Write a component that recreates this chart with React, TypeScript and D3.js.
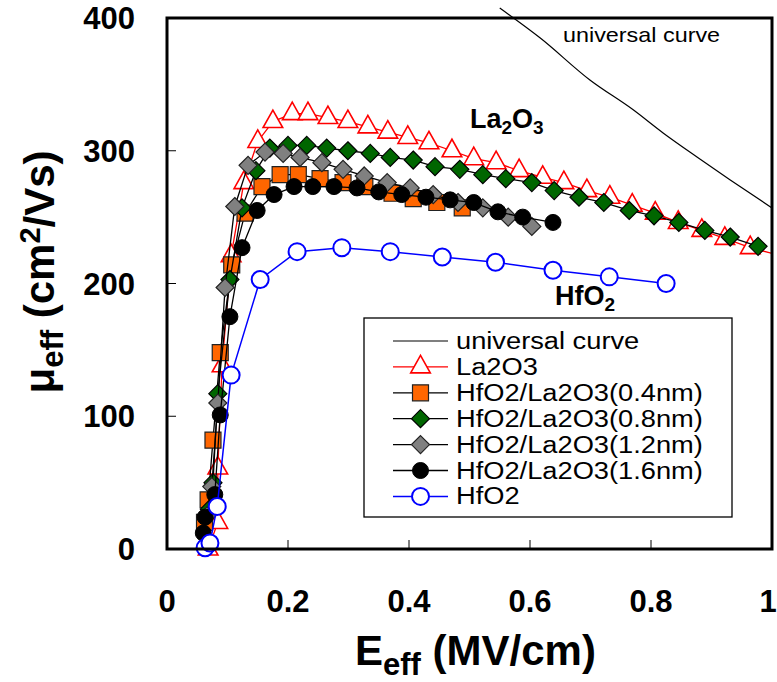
import React from 'react';
import * as d3 from 'd3';

const W = 777;
const H = 682;
const FONT = "'Liberation Sans', Arial, Helvetica, sans-serif";

// ---------- data ----------
const xTicks = [0, 0.2, 0.4, 0.6, 0.8, 1];
const xTickLabels = ['0', '0.2', '0.4', '0.6', '0.8', '1'];
const yTicks = [0, 100, 200, 300, 400];
const yTickLabels = ['0', '100', '200', '300', '400'];

const universalE = [0.55, 0.617, 0.699, 0.77, 0.82, 0.876, 0.931, 1.0];
const universalMu = [407.5, 384.9, 353.3, 331.0, 313.4, 295.3, 278.0, 256.9];

const la2o3E = [0.068, 0.084, 0.084, 0.091, 0.106, 0.127, 0.15, 0.175, 0.207, 0.233, 0.266, 0.299, 0.332, 0.365, 0.398, 0.433, 0.471, 0.507, 0.544, 0.582, 0.621, 0.656, 0.694, 0.732, 0.769, 0.807, 0.845, 0.884, 0.922, 0.964, 1.04];
const la2o3Mu = [0, 20, 61, 138, 221, 276, 307, 322, 328, 328, 325, 322, 318, 314, 310, 306, 300, 294, 291, 285, 280, 276, 270, 265, 259, 253, 246, 240, 234, 227, 218];

const hf04E = [0.062, 0.068, 0.076, 0.088, 0.107, 0.129, 0.157, 0.187, 0.217, 0.253, 0.291, 0.327, 0.372, 0.407, 0.446, 0.488];
const hf04Mu = [20, 37, 82, 148, 214, 253, 273, 282, 282, 279, 276, 273, 268, 264, 261, 257];

const hf08E = [0.07, 0.076, 0.084, 0.104, 0.124, 0.147, 0.17, 0.2, 0.231, 0.264, 0.299, 0.336, 0.369, 0.407, 0.443, 0.484, 0.522, 0.56, 0.603, 0.64, 0.681, 0.722, 0.764, 0.805, 0.846, 0.889, 0.931, 0.977];
const hf08Mu = [30, 50, 117, 203, 257, 285, 302, 304, 304, 302, 300, 298, 295, 293, 288, 286, 282, 279, 276, 270, 265, 261, 255, 251, 246, 240, 235, 228];

const hf12E = [0.066, 0.074, 0.084, 0.096, 0.112, 0.134, 0.162, 0.192, 0.22, 0.256, 0.291, 0.326, 0.364, 0.402, 0.44, 0.481, 0.522, 0.564, 0.603];
const hf12Mu = [25, 47, 110, 197, 258, 289, 299, 298, 295, 291, 286, 281, 276, 272, 267, 261, 257, 250, 243];

const hf16E = [0.06, 0.063, 0.079, 0.088, 0.104, 0.124, 0.149, 0.177, 0.21, 0.241, 0.276, 0.314, 0.35, 0.388, 0.428, 0.468, 0.507, 0.547, 0.588, 0.638];
const hf16Mu = [12, 24, 41, 101, 175, 227, 255, 267, 273, 273, 273, 272, 269, 267, 265, 263, 261, 254, 250, 246];

const hfo2E = [0.063, 0.071, 0.083, 0.106, 0.154, 0.215, 0.289, 0.369, 0.455, 0.543, 0.638, 0.731, 0.825];
const hfo2Mu = [1, 4.5, 32, 131, 203, 224, 227, 224, 220, 216, 210, 205, 200];

const legendLabels = [
  'universal curve',
  'La2O3',
  'HfO2/La2O3(0.4nm)',
  'HfO2/La2O3(0.8nm)',
  'HfO2/La2O3(1.2nm)',
  'HfO2/La2O3(1.6nm)',
  'HfO2',
];

type Shape = 'triangle' | 'square' | 'diamond' | 'circle';
interface Series {
  name: string;
  e: number[];
  mu: number[];
  line: string;
  lineWidth: number;
  shape: Shape;
  fill: string;
  stroke: string;
  strokeWidth: number;
}

const series: Series[] = [
  { name: legendLabels[1], e: la2o3E, mu: la2o3Mu, line: '#ff0000', lineWidth: 1.3, shape: 'triangle', fill: '#ffffff', stroke: '#ff0000', strokeWidth: 1.6 },
  { name: legendLabels[2], e: hf04E, mu: hf04Mu, line: '#000000', lineWidth: 1.3, shape: 'square', fill: '#ff6600', stroke: '#222222', strokeWidth: 1.2 },
  { name: legendLabels[3], e: hf08E, mu: hf08Mu, line: '#000000', lineWidth: 1.3, shape: 'diamond', fill: '#006600', stroke: '#000000', strokeWidth: 1.2 },
  { name: legendLabels[4], e: hf12E, mu: hf12Mu, line: '#000000', lineWidth: 1.3, shape: 'diamond', fill: '#808080', stroke: '#222222', strokeWidth: 1.2 },
  { name: legendLabels[5], e: hf16E, mu: hf16Mu, line: '#000000', lineWidth: 1.3, shape: 'circle', fill: '#000000', stroke: '#000000', strokeWidth: 1 },
  { name: legendLabels[6], e: hfo2E, mu: hfo2Mu, line: '#0000ff', lineWidth: 1.5, shape: 'circle', fill: '#ffffff', stroke: '#0000ff', strokeWidth: 2 },
];

// ---------- layout ----------
const M = { left: 167, right: 772, top: 18, bottom: 549 };
const x = d3.scaleLinear().domain([0, 1]).range([M.left, M.right]);
const y = d3.scaleLinear().domain([0, 400]).range([M.bottom, M.top]);

function markerPath(shape: Shape, filled: boolean): string {
  if (shape === 'triangle') return 'M0,-11.5L9.8,6L-9.8,6Z';
  if (shape === 'square') return 'M-8,-8H8V8H-8Z';
  if (shape === 'diamond') return 'M0,-9L9,0L0,9L-9,0Z';
  const r = filled ? 8 : 8.5;
  return d3.arc()({ innerRadius: 0, outerRadius: r, startAngle: 0, endAngle: 2 * Math.PI }) as string;
}

function Marker({ s, cx, cy }: { s: Series; cx: number; cy: number }) {
  const filled = s.fill !== '#ffffff';
  return (
    <path
      d={markerPath(s.shape, filled)}
      transform={`translate(${cx},${cy})`}
      fill={s.fill}
      stroke={s.stroke}
      strokeWidth={s.strokeWidth}
      strokeLinejoin="miter"
    />
  );
}

const lineGen = d3
  .line<[number, number]>()
  .x((d) => x(d[0]))
  .y((d) => y(d[1]));

const smoothGen = d3
  .line<[number, number]>()
  .x((d) => x(d[0]))
  .y((d) => y(d[1]))
  .curve(d3.curveMonotoneX);

function SText({ x: tx, y: ty, sx = 1, children, ...rest }: any) {
  return (
    <text transform={`translate(${tx},${ty}) scale(${sx},1)`} {...rest}>
      {children}
    </text>
  );
}

export default function App() {
  const universalPath = smoothGen(universalE.map((e, i) => [e, universalMu[i]] as [number, number])) as string;

  const legX1 = 393;
  const legX2 = 448;
  const legMid = 420.5;
  const legText = 456;
  const legRow0 = 341;
  const legStep = 25.9;

  return (
    <svg
      width={W}
      height={H}
      style={{ position: 'absolute', left: 0, top: 0, background: '#ffffff' }}
      fontFamily={FONT}
    >
      <defs>
        <clipPath id="plotClip">
          <rect x={M.left} y={0} width={M.right - M.left} height={H} />
        </clipPath>
      </defs>
      <rect x={0} y={0} width={W} height={H} fill="#ffffff" />

      {/* ticks */}
      {yTicks.slice(1, -1).map((t) => (
        <line key={'yt' + t} x1={M.left} x2={M.left + 9} y1={y(t)} y2={y(t)} stroke="#000" strokeWidth={1} />
      ))}
      {xTicks.slice(1, -1).map((t) => (
        <line key={'xt' + t} x1={x(t)} x2={x(t)} y1={M.bottom} y2={M.bottom - 9} stroke="#000" strokeWidth={1} />
      ))}

      {/* universal curve */}
      <path d={universalPath} fill="none" stroke="#000" strokeWidth={1.2} />

      {/* data series */}
      <g clipPath="url(#plotClip)">
        {series.map((s) => {
          const pts = s.e.map((e, i) => [e, s.mu[i]] as [number, number]);
          return (
            <g key={s.name}>
              <path d={lineGen(pts) as string} fill="none" stroke={s.line} strokeWidth={s.lineWidth} />
              {pts.map((p, i) => (
                <Marker key={i} s={s} cx={x(p[0])} cy={y(p[1])} />
              ))}
            </g>
          );
        })}
      </g>

      {/* frame */}
      <rect
        x={M.left}
        y={M.top}
        width={M.right - M.left}
        height={M.bottom - M.top}
        fill="none"
        stroke="#000"
        strokeWidth={3}
      />

      {/* tick labels */}
      {yTicks.map((t, i) => (
        <text key={'yl' + t} x={135} y={y(t) + 11} textAnchor="end" fontSize={31} fontWeight="bold">
          {yTickLabels[i]}
        </text>
      ))}
      {xTicks.map((t, i) => (
        <text key={'xl' + t} x={Math.min(x(t), 768)} y={612} textAnchor="middle" fontSize={31} fontWeight="bold">
          {xTickLabels[i]}
        </text>
      ))}

      {/* axis titles */}
      <text x={355} y={665} fontSize={42} fontWeight="bold">
        E<tspan fontSize={31} dy={10}>eff</tspan>
        <tspan dy={-10}> (MV/cm)</tspan>
      </text>
      <text transform="translate(54,272) rotate(-90)" textAnchor="middle" fontSize={42} fontWeight="bold">
        μ<tspan fontSize={31} dy={9}>eff</tspan>
        <tspan dy={-9}> (cm</tspan>
        <tspan fontSize={29} dy={-14}>2</tspan>
        <tspan dy={14}>/Vs)</tspan>
      </text>

      {/* annotations */}
      <SText x={563} y={42} sx={1.14} fontSize={20.5}>
        universal curve
      </SText>
      <text x={470} y={128} fontSize={27} fontWeight="bold">
        La<tspan fontSize={19} dy={6}>2</tspan>
        <tspan dy={-6}>O</tspan>
        <tspan fontSize={19} dy={6}>3</tspan>
      </text>
      <text x={555} y={305} fontSize={27} fontWeight="bold">
        HfO<tspan fontSize={19} dy={6}>2</tspan>
      </text>

      {/* legend */}
      <rect x={364} y={318} width={368} height={199} fill="#ffffff" stroke="#000" strokeWidth={1.3} />
      <line x1={legX1} x2={legX2} y1={legRow0} y2={legRow0} stroke="#000" strokeWidth={1.2} />
      <SText x={legText} y={legRow0 + 8} sx={1.16} fontSize={23.5}>
        {legendLabels[0]}
      </SText>
      {series.map((s, i) => {
        const ry = legRow0 + (i + 1) * legStep;
        return (
          <g key={'leg' + s.name}>
            <line x1={legX1} x2={legX2} y1={ry} y2={ry} stroke={s.line} strokeWidth={s.lineWidth} />
            <Marker s={s} cx={legMid} cy={ry} />
            <SText x={legText} y={ry + 8} sx={1.16} fontSize={23.5}>
              {s.name}
            </SText>
          </g>
        );
      })}
    </svg>
  );
}
